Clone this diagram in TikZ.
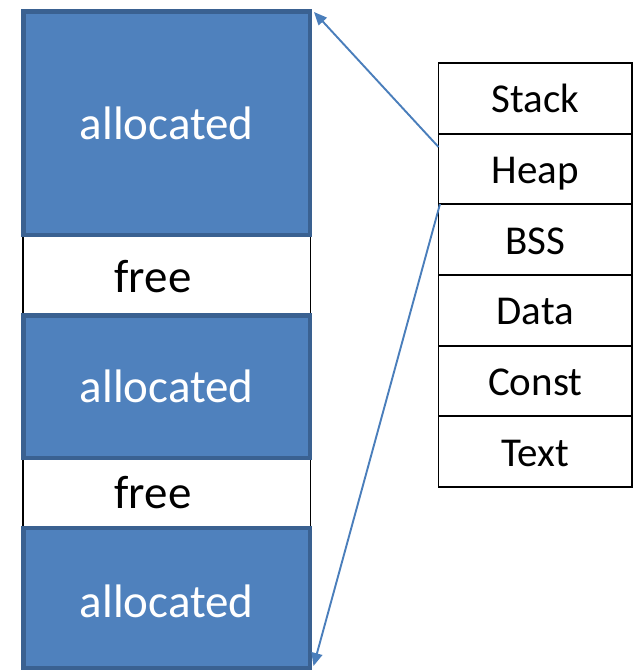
\documentclass[tikz,border=0pt]{standalone}
\usepackage{fontspec}
\setmainfont{Carlito}
\usetikzlibrary{arrows.meta}
\definecolor{blkfill}{HTML}{4F81BD}
\definecolor{blkedge}{HTML}{3A6191}
\definecolor{arrowc}{HTML}{4A7EBB}
\begin{document}
\begin{tikzpicture}[x=1pt,y=-1pt,
  alloc/.style={draw=blkedge,fill=blkfill,line width=4.5pt,minimum width=286.5pt,inner sep=0pt,outer sep=0pt,
    text=white,font=\fontsize{47}{50}\selectfont},
  freebox/.style={draw=black,fill=white,line width=1.6pt,minimum width=287.5pt,inner sep=0pt,outer sep=0pt},
  freetext/.style={font=\fontsize{47}{50}\selectfont,text=black},
  seg/.style={draw=black,line width=1.8pt,minimum width=193.5pt,minimum height=70.67pt,inner sep=0pt,outer sep=0pt,
    text height=29pt,text depth=0pt,font=\fontsize{41}{44}\selectfont},
  link/.style={draw=arrowc,line width=1.9pt,-{Triangle[length=13pt,width=11pt]}}]
\useasboundingbox (0,0) rectangle (634,671);
\clip (0,0) rectangle (634,671);
% free regions
\node[freebox,minimum height=80.5pt] (free1) at (166.75,275.25) {};
\node[freebox,minimum height=70pt] (free2) at (166.75,493) {};
\node[freetext] (free1t) at (153,277) {free};
\node[freetext] (free2t) at (153,493) {free};
% allocated blocks
\node[alloc,minimum height=223.5pt] (alloc1) at (166.75,123.25) {allocated};
\node[alloc,minimum height=142.5pt] (alloc2) at (166.75,386.75) {allocated};
\node[alloc,minimum height=140pt] (alloc3) at (166.75,598) {};
\node[text=white,font=\fontsize{47}{50}\selectfont] (alloc3t) at (166.75,601) {allocated};
% segments table
\node[seg] (stack) at (535.25,98.33) {Stack};
\node[seg] (heap)  at (535.25,169) {Heap};
\node[seg] (bss)   at (535.25,239.67) {BSS};
\node[seg] (data)  at (535.25,310.33) {Data};
\node[seg] (const) at (535.25,381) {Const};
\node[seg] (text)  at (535.25,451.67) {Text};
% arrows
\coordinate (h1) at (438.5,147);
\coordinate (h2) at (440,204);
\coordinate (t1) at (314,12);
\coordinate (t2) at (313.5,666);
\draw[link] (h1) -- (t1);
\draw[link] (h2) -- (t2);
\end{tikzpicture}
\end{document}
